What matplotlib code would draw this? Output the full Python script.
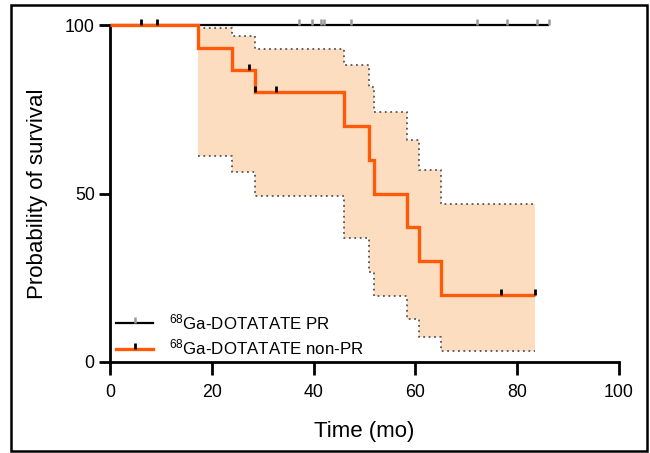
import matplotlib
matplotlib.use("Agg")
import matplotlib.pyplot as plt
from matplotlib.lines import Line2D
from matplotlib.markers import MarkerStyle
from matplotlib.path import Path
from matplotlib.patches import Rectangle
import numpy as np

plt.rcParams['font.family'] = ['Liberation Sans', 'DejaVu Sans']
plt.rcParams['mathtext.fontset'] = 'custom'
plt.rcParams['mathtext.rm'] = 'Liberation Sans'
plt.rcParams['mathtext.default'] = 'rm'

# ---- data ----
pr_end = 86.3
pr_censor = [37.2, 39.7, 41.4, 42.0, 47.3, 72.2, 78.0, 83.8, 86.3]

npr_times = [0, 17.3, 24.0, 28.5, 46.0, 50.8, 51.9, 58.3, 60.8, 65.0]
npr_surv = [100, 93.3, 86.7, 80, 70, 60, 50, 40, 30, 20]
npr_end = 83.4
npr_censor = [6.1, 9.3, 27.3, 28.5, 32.7, 76.9, 83.4]

ci_times = [17.3, 24.0, 28.5, 46.0, 50.8, 51.9, 58.3, 60.8, 65.0]
ci_upper = [99, 96.7, 93, 88, 81.5, 74.3, 66, 57, 47]
ci_lower = [61.2, 56.5, 49.3, 36.7, 26.8, 19.5, 12.9, 7.3, 3.4]

x_ticks = [0, 20, 40, 60, 80, 100]
y_ticks = [0, 50, 100]

ORANGE = '#FF5A0A'
FILL = '#FDDDBF'
GREY = '#9A9A9A'

fig = plt.figure(figsize=(6.5, 4.53), dpi=100)
ax = fig.add_axes([110/650, 1-362/453, (619-110)/650, (362-25)/453])

def step_value(times, vals, t):
    idx = np.searchsorted(times, t, side='right') - 1
    return vals[idx]

# confidence band
ct = ci_times + [npr_end]
cu = ci_upper + [ci_upper[-1]]
cl = ci_lower + [ci_lower[-1]]
ax.fill_between(ct, cl, cu, step='post', color=FILL, lw=0, zorder=1)
ax.plot(ct, cu, drawstyle='steps-post', ls=(0, (1, 2)), color='#555555', lw=1.3, zorder=2)
ax.plot(ct, cl, drawstyle='steps-post', ls=(0, (1, 2)), color='#555555', lw=1.3, zorder=2)

tick_marker = MarkerStyle(Path([(0, 0), (0, 1)]))

# PR curve
ax.plot([0, pr_end], [100, 100], color='black', lw=1.6, zorder=3, clip_on=False, solid_capstyle='butt')
ax.plot(pr_censor, [100]*len(pr_censor), ls='none', marker=tick_marker, ms=9,
        mec=GREY, mew=1.8, zorder=3, clip_on=False)

# non-PR curve
nt = npr_times + [npr_end]
ns = npr_surv + [npr_surv[-1]]
ax.plot(nt, ns, drawstyle='steps-post', color=ORANGE, lw=2.4, zorder=4, clip_on=False,
        solid_joinstyle='miter', solid_capstyle='butt')
cvals = [step_value(npr_times, npr_surv, t) for t in npr_censor]
ax.plot(npr_censor, cvals, ls='none', marker=tick_marker, ms=9,
        mec='black', mew=2.0, zorder=5, clip_on=False)

ax.set_xlim(0, 100)
ax.set_ylim(0, 100)
ax.set_xticks(x_ticks)
ax.set_yticks(y_ticks)
for s in ['top', 'right']:
    ax.spines[s].set_visible(False)
for s in ['left', 'bottom']:
    ax.spines[s].set_linewidth(2.0)
ax.tick_params(axis='both', direction='out', width=2.0, labelsize=12.8)
ax.tick_params(axis='x', length=9.5, pad=6)
ax.tick_params(axis='y', length=8, pad=3)
ax.set_xlabel('Time (mo)', fontsize=16, labelpad=15)
ax.set_ylabel('Probability of survival', fontsize=16, labelpad=12)

handles = [
    Line2D([], [], color='black', lw=1.6, marker=tick_marker, ms=9, mec=GREY, mew=1.8),
    Line2D([], [], color=ORANGE, lw=2.4, marker=tick_marker, ms=9, mec='black', mew=2.0),
]
labels = [r'$^{68}$Ga-DOTATATE PR', r'$^{68}$Ga-DOTATATE non-PR']
ax.legend(handles, labels, loc='lower left', bbox_to_anchor=(-0.008, -0.018), frameon=False,
          fontsize=12.2, handlelength=2.2, handletextpad=0.9, labelspacing=0.35,
          borderaxespad=0.2, numpoints=1)

fig.patches.append(Rectangle((11/650, 2/453), (647-11)/650, (451-5)/453,
                             transform=fig.transFigure, fill=False, ec='black', lw=1.8))

fig.savefig('out.png', dpi=100)
